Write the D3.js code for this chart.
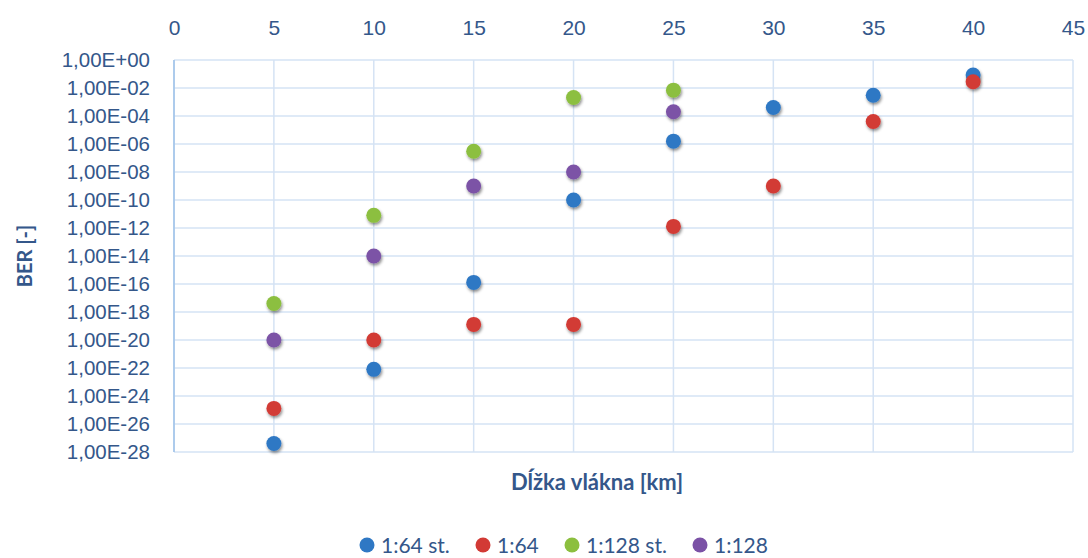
<!DOCTYPE html>
<html>
<head>
<meta charset="utf-8">
<script src="https://cdn.jsdelivr.net/npm/d3@7"></script>
<style>
  html, body { margin: 0; padding: 0; background: #fff; }
  svg { display: block; font-family: Lato, "Open Sans", sans-serif; }
</style>
</head>
<body>
<svg id="chart" width="1088" height="558"></svg>
<script>
const lengths = [5, 10, 15, 20, 25, 30, 35, 40];
const seriesNames = ['1:64 st.', '1:64', '1:128 st.', '1:128'];
const seriesColors = ['#2f78c4', '#d23a35', '#8cbf3f', '#7b52a6'];
const ber64st = [4e-28, 8e-23, 1.3e-16, 1e-10, 1.6e-6, 4e-4, 3e-3, 8.5e-2];
const ber64 = [1.3e-25, 1e-20, 1.3e-19, 1.3e-19, 1.3e-12, 1e-9, 4e-5, 2.8e-2];
const ber128st = [4e-18, 8e-12, 3e-7, 2.1e-3, 7e-3];
const ber128 = [1e-20, 1e-14, 1e-9, 1e-8, 2e-4];
const xTicks = [0, 5, 10, 15, 20, 25, 30, 35, 40, 45];
const yTicks = d3.range(0, -29, -2).map(e => Math.pow(10, e));

const svg = d3.select('#chart');
const margin = {top: 60, right: 15, bottom: 106, left: 174};
const width = 1088 - margin.left - margin.right;
const height = 558 - margin.top - margin.bottom;
const textColor = '#34578a';

const x = d3.scaleLinear().domain([0, 45]).range([0, width]);
const y = d3.scaleLog().domain([1e-28, 1]).range([height, 0]);

const defs = svg.append('defs');
const f = defs.append('filter').attr('id', 'shadow').attr('x', '-50%').attr('y', '-50%').attr('width', '200%').attr('height', '200%');
f.append('feDropShadow').attr('dx', 1).attr('dy', 2).attr('stdDeviation', 1.6)
  .attr('flood-color', '#000').attr('flood-opacity', 0.45);

const g = svg.append('g').attr('transform', `translate(${margin.left},${margin.top})`);

// grid
g.append('g').selectAll('line').data(yTicks).join('line')
  .attr('x1', 0).attr('x2', width).attr('y1', d => y(d)).attr('y2', d => y(d))
  .attr('stroke', '#d5e3f4').attr('stroke-width', 1.5);
g.append('g').selectAll('line').data(xTicks).join('line')
  .attr('y1', 0).attr('y2', height).attr('x1', d => x(d)).attr('x2', d => x(d))
  .attr('stroke', '#d5e3f4').attr('stroke-width', 1.5);
g.append('line').attr('x1', 0).attr('x2', 0).attr('y1', 0).attr('y2', height)
  .attr('stroke', '#9cc0e8').attr('stroke-width', 1.5);

// axes
const fmt = d => {
  const e = Math.round(Math.log10(d));
  const s = e < 0 ? '-' : '+';
  return '1,00E' + s + String(Math.abs(e)).padStart(2, '0');
};
const yAxis = g.append('g').call(d3.axisLeft(y).tickValues(yTicks).tickFormat(fmt).tickSize(0).tickPadding(24));
const xAxis = g.append('g').call(d3.axisTop(x).tickValues(xTicks).tickFormat(d3.format('d')).tickSize(0).tickPadding(25));
[xAxis, yAxis].forEach(a => {
  a.select('.domain').remove();
  a.selectAll('text').attr('fill', textColor).style('font-size', '20.5px');
});
xAxis.selectAll('text').style('font-size', '21px');

// points
const series = [ber64st, ber64, ber128st, ber128];
series.forEach((vals, i) => {
  g.append('g').selectAll('circle').data(vals).join('circle')
    .attr('cx', (d, j) => x(lengths[j]))
    .attr('cy', d => y(d))
    .attr('r', 7.5)
    .attr('fill', seriesColors[i])
    .attr('filter', 'url(#shadow)');
});

// axis titles
svg.append('text')
  .attr('transform', `translate(27,${margin.top + height / 2}) rotate(-90)`)
  .attr('text-anchor', 'middle').attr('dominant-baseline', 'middle')
  .attr('fill', textColor).style('font-size', '20px').style('font-weight', 'bold')
  .text('BER [-]');
svg.append('text')
  .attr('x', 597).attr('y', 490)
  .attr('text-anchor', 'middle')
  .attr('fill', textColor).style('font-size', '22px').style('font-weight', 'bold')
  .text('Dĺžka vlákna [km]');

// legend
const legendX = [367, 483, 572, 700];
const lg = svg.append('g').selectAll('g').data(seriesNames).join('g')
  .attr('transform', (d, i) => `translate(${legendX[i]},545)`);
lg.append('circle').attr('r', 7.5).attr('fill', (d, i) => seriesColors[i]);
lg.append('text').attr('x', 14).attr('dy', '0.36em')
  .attr('fill', textColor).style('font-size', '21px').text(d => d);
</script>
</body>
</html>
